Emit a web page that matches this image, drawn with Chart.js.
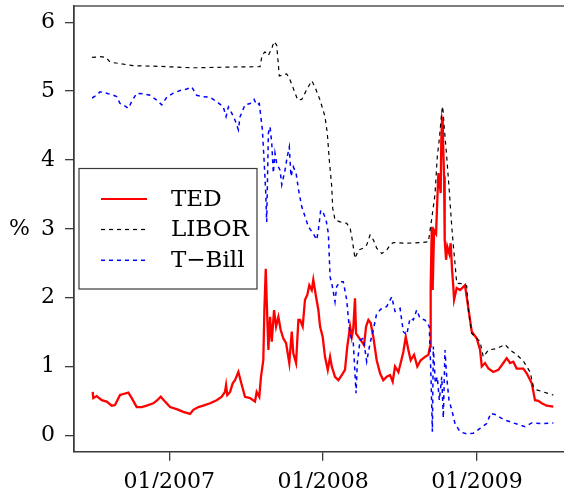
<!DOCTYPE html>
<html><head><meta charset="utf-8">
<script src="https://cdn.jsdelivr.net/npm/chart.js@4.4.1/dist/chart.umd.min.js"></script>
<style>
html,body{margin:0;padding:0;background:#fff;overflow:hidden;width:564px;height:488px}
#wrap{position:absolute;left:0;top:0;width:600px;height:488px}
</style></head>
<body><div id="wrap"><canvas id="c" width="600" height="488"></canvas></div>
<script>
// Dates are decimal years
const tedDates = [2006.502,2006.506,2006.528,2006.561,2006.593,2006.626,2006.647,2006.680,2006.701,2006.734,2006.756,2006.788,2006.821,2006.853,2006.896,2006.922,2006.944,2006.972,2007.005,2007.048,2007.091,2007.135,2007.156,2007.189,2007.221,2007.265,2007.308,2007.341,2007.362,2007.369,2007.377,2007.395,2007.412,2007.427,2007.449,2007.471,2007.492,2007.525,2007.557,2007.568,2007.585,2007.596,2007.611,2007.618,2007.627,2007.633,2007.644,2007.655,2007.666,2007.681,2007.694,2007.709,2007.724,2007.741,2007.759,2007.780,2007.796,2007.806,2007.824,2007.839,2007.850,2007.867,2007.882,2007.897,2007.910,2007.926,2007.936,2007.954,2007.969,2007.980,2007.997,2008.012,2008.030,2008.045,2008.056,2008.077,2008.099,2008.121,2008.142,2008.157,2008.175,2008.186,2008.196,2008.207,2008.214,2008.229,2008.251,2008.266,2008.279,2008.294,2008.309,2008.326,2008.348,2008.370,2008.391,2008.413,2008.435,2008.452,2008.467,2008.489,2008.504,2008.521,2008.537,2008.554,2008.569,2008.591,2008.612,2008.634,2008.662,2008.684,2008.695,2008.699,2008.706,2008.712,2008.721,2008.734,2008.742,2008.749,2008.755,2008.764,2008.768,2008.773,2008.777,2008.781,2008.786,2008.790,2008.799,2008.807,2008.820,2008.829,2008.838,2008.846,2008.851,2008.868,2008.890,2008.922,2008.944,2008.966,2008.998,2009.020,2009.031,2009.052,2009.074,2009.106,2009.139,2009.171,2009.193,2009.215,2009.236,2009.258,2009.301,2009.323,2009.356,2009.377,2009.399,2009.421,2009.453,2009.496];
const tedValues = [0.63,0.54,0.57,0.51,0.49,0.43,0.44,0.585,0.60,0.62,0.54,0.41,0.41,0.43,0.465,0.51,0.56,0.49,0.41,0.38,0.34,0.31,0.37,0.41,0.43,0.465,0.51,0.56,0.63,0.73,0.585,0.63,0.755,0.80,0.92,0.73,0.56,0.54,0.49,0.63,0.56,0.85,1.09,1.82,2.42,1.97,1.24,1.72,1.36,1.82,1.58,1.72,1.53,1.41,1.34,1.05,1.505,1.19,1.05,1.675,1.675,1.58,1.97,2.04,2.18,2.11,2.26,2.01,1.82,1.58,1.43,1.14,0.95,1.14,1.00,0.85,0.80,0.875,0.95,1.29,1.58,1.43,1.555,1.99,1.48,1.43,1.36,1.31,1.58,1.675,1.63,1.43,1.09,0.90,0.80,0.85,0.875,0.78,1.00,0.92,1.05,1.21,1.43,1.24,1.09,1.17,1.00,1.09,1.14,1.17,1.29,2.16,3.03,2.11,2.98,2.93,3.42,3.81,3.71,3.52,4.29,4.58,4.53,4.145,3.76,2.84,2.55,2.74,2.64,2.79,2.40,2.16,1.97,2.14,2.11,2.18,1.845,1.505,1.41,1.24,1.00,1.05,0.97,0.92,0.95,1.05,1.12,1.05,1.07,0.97,0.97,0.90,0.755,0.51,0.50,0.465,0.43,0.415];

const liborDates = [2006.498,2006.550,2006.589,2006.615,2006.680,2006.764,2006.940,2007.135,2007.200,2007.395,2007.590,2007.603,2007.622,2007.644,2007.666,2007.681,2007.698,2007.715,2007.763,2007.780,2007.806,2007.835,2007.861,2007.893,2007.926,2007.947,2007.980,2008.012,2008.027,2008.040,2008.056,2008.062,2008.077,2008.110,2008.153,2008.175,2008.186,2008.207,2008.229,2008.261,2008.283,2008.305,2008.326,2008.348,2008.381,2008.413,2008.435,2008.456,2008.543,2008.630,2008.684,2008.706,2008.727,2008.742,2008.755,2008.771,2008.777,2008.788,2008.803,2008.820,2008.836,2008.846,2008.857,2008.868,2008.911,2008.933,2008.944,2008.966,2009.020,2009.041,2009.074,2009.128,2009.182,2009.215,2009.258,2009.301,2009.345,2009.366,2009.388,2009.431,2009.496];
const liborValues = [5.49,5.50,5.49,5.42,5.40,5.37,5.36,5.34,5.34,5.35,5.355,5.52,5.57,5.52,5.62,5.72,5.67,5.22,5.25,5.19,5.04,4.87,4.88,5.02,5.15,5.06,4.87,4.63,4.39,4.00,3.61,3.30,3.13,3.10,3.08,3.01,2.885,2.57,2.69,2.72,2.765,2.91,2.84,2.72,2.64,2.69,2.765,2.80,2.79,2.80,2.81,3.15,3.50,4.05,4.30,4.70,4.78,4.45,4.05,3.55,3.03,2.76,2.50,2.21,2.20,2.17,1.82,1.48,1.36,1.14,1.24,1.26,1.32,1.24,1.17,1.08,0.92,0.71,0.66,0.63,0.585];

const billDates = [2006.498,2006.528,2006.550,2006.593,2006.636,2006.658,2006.680,2006.701,2006.734,2006.756,2006.788,2006.831,2006.875,2006.918,2006.951,2006.983,2007.026,2007.070,2007.113,2007.146,2007.178,2007.221,2007.265,2007.308,2007.351,2007.369,2007.384,2007.406,2007.427,2007.449,2007.460,2007.492,2007.525,2007.551,2007.568,2007.585,2007.594,2007.605,2007.616,2007.627,2007.633,2007.644,2007.655,2007.666,2007.676,2007.687,2007.698,2007.720,2007.731,2007.752,2007.767,2007.780,2007.791,2007.806,2007.824,2007.839,2007.861,2007.882,2007.904,2007.936,2007.958,2007.969,2007.984,2008.001,2008.019,2008.034,2008.045,2008.056,2008.077,2008.088,2008.110,2008.131,2008.153,2008.170,2008.186,2008.196,2008.214,2008.222,2008.240,2008.261,2008.283,2008.305,2008.326,2008.348,2008.381,2008.413,2008.446,2008.467,2008.500,2008.521,2008.543,2008.565,2008.586,2008.608,2008.630,2008.662,2008.690,2008.701,2008.710,2008.716,2008.729,2008.742,2008.755,2008.771,2008.781,2008.792,2008.803,2008.818,2008.836,2008.857,2008.890,2008.933,2008.976,2009.020,2009.063,2009.089,2009.128,2009.171,2009.236,2009.312,2009.356,2009.431,2009.496];
const billValues = [4.90,4.94,4.99,4.97,4.94,4.92,4.82,4.80,4.75,4.85,4.97,4.96,4.94,4.87,4.80,4.91,4.97,5.01,5.03,5.06,4.94,4.92,4.91,4.85,4.77,4.63,4.77,4.68,4.58,4.44,4.63,4.80,4.82,4.88,4.80,4.82,4.65,4.44,4.00,3.52,3.10,4.39,4.48,4.24,3.81,4.10,3.95,3.85,3.64,3.85,4.05,4.19,3.76,3.90,3.81,3.58,3.32,3.18,3.03,2.93,2.84,2.98,3.27,3.23,3.13,2.93,2.30,2.21,1.94,2.16,2.23,2.23,1.97,1.55,1.38,1.34,0.61,1.05,1.38,1.41,1.07,1.34,1.53,1.77,1.845,1.87,2.01,1.80,1.845,1.505,1.46,1.70,1.675,1.82,1.70,1.675,1.58,0.85,0.05,1.29,0.755,0.85,0.51,0.85,0.25,1.24,0.85,0.51,0.37,0.17,0.05,0.02,0.03,0.10,0.17,0.32,0.295,0.23,0.18,0.125,0.18,0.17,0.18];

const seriesNames = ['TED','LIBOR','T\u2212Bill'];
const xTickYears = [2007, 2008, 2009];
const xTickLabels = ['01/2007','01/2008','01/2009'];
const yTickValues = [0,1,2,3,4,5,6];
const yAxisLabel = '%';

const pts = (d, v) => d.map((x, i) => ({x: x, y: v[i]}));
const FONT = 'DejaVu Serif';

const frame = {
  id: 'frame',
  afterDraw(chart) {
    const c = chart.ctx, a = chart.chartArea;
    c.save();
    c.strokeStyle = '#3a3a3a'; c.lineWidth = 1.3;
    c.strokeRect(a.left, a.top, a.right - a.left, a.bottom - a.top);
    // y label
    c.fillStyle = '#000'; c.font = '22px "' + FONT + '"';
    c.textAlign = 'center'; c.textBaseline = 'middle';
    c.fillText(yAxisLabel, 19.5, 229);
    // legend
    c.strokeStyle = '#3a3a3a'; c.lineWidth = 1.2;
    c.strokeRect(79, 168.5, 178, 120.5);
    const rows = [199, 229.5, 260.3];
    c.textAlign = 'left';
    c.font = '23px "' + FONT + '"';
    seriesNames.forEach((t, i) => {
      const ds = chart.data.datasets[i];
      c.strokeStyle = ds.borderColor; c.lineWidth = Math.min(ds.borderWidth, 2);
      c.setLineDash(ds.borderDash || []);
      c.beginPath(); c.moveTo(101, rows[i]); c.lineTo(147, rows[i]); c.stroke();
      c.setLineDash([]);
      c.fillStyle = '#000';
      c.fillText(t, 171, rows[i] + 1);
    });
    c.restore();
  }
};

new Chart(document.getElementById('c'), {
  type: 'line',
  data: {
    datasets: [
      {label: seriesNames[0], data: pts(tedDates, tedValues), borderColor: '#ff0000', borderWidth: 2.3, pointRadius: 0, tension: 0, order: 3},
      {label: seriesNames[1], data: pts(liborDates, liborValues), borderColor: '#000000', borderWidth: 1.2, borderDash: [4, 4], pointRadius: 0, tension: 0, order: 2},
      {label: seriesNames[2], data: pts(billDates, billValues), borderColor: '#0000ff', borderWidth: 1.5, borderDash: [4, 4], pointRadius: 0, tension: 0, order: 1}
    ]
  },
  options: {
    responsive: false, animation: false, devicePixelRatio: 1,
    layout: {padding: {top: 6, right: 29, left: 0, bottom: 0}},
    plugins: {legend: {display: false}, tooltip: {enabled: false}},
    scales: {
      x: {
        type: 'linear', min: 2006.3806, max: 2009.611,
        afterBuildTicks: s => { s.ticks = xTickYears.map(v => ({value: v})); },
        afterFit: s => { s.height = 36.3; s.paddingLeft = 0; s.paddingRight = 0; },
        ticks: {callback: (v) => xTickLabels[xTickYears.indexOf(v)], maxRotation: 0, autoSkip: false,
                font: {family: FONT, size: 22}, color: '#000', padding: 8},
        grid: {display: true, drawOnChartArea: false, drawTicks: true, tickLength: 9, color: '#3a3a3a', lineWidth: 1.3},
        border: {display: true, color: '#3a3a3a', width: 1.3}
      },
      y: {
        type: 'linear', min: -0.2383, max: 6.2368,
        afterBuildTicks: s => { s.ticks = yTickValues.map(v => ({value: v})); },
        afterFit: s => { s.width = 74; s.paddingTop = 0; s.paddingBottom = 0; },
        ticks: {callback: v => String(v), font: {family: FONT, size: 22}, color: '#000', padding: 10},
        grid: {display: true, drawOnChartArea: false, drawTicks: true, tickLength: 9, color: '#3a3a3a', lineWidth: 1.3},
        border: {display: true, color: '#3a3a3a', width: 1.3}
      }
    }
  },
  plugins: [frame]
});
</script>
</body></html>
